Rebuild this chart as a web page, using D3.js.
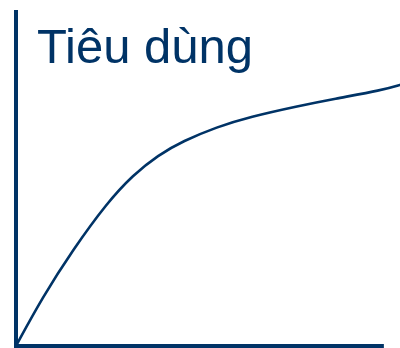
<!DOCTYPE html>
<html>
<head>
<meta charset="utf-8">
<script src="https://cdn.jsdelivr.net/npm/d3@7"></script>
<style>
  body { margin: 0; background: #fff; }
  svg { display: block; }
</style>
</head>
<body>
<div id="chart"></div>
<script>
// Consumption curve (arbitrary 0-100 units)
const incomeValues = [0, 6.8, 14.8, 23.7, 30.5, 37.0, 43.5, 52.3, 60.9, 73.4, 82.6, 95.6, 100];
const consumptionValues = [0, 14.3, 28.6, 42.6, 50.9, 56.8, 61.0, 65.2, 68.2, 71.4, 73.5, 76.2, 77.7];
const xAxisEnd = 95.8;
const yAxisEnd = 100;
const titleText = "Tiêu dùng";

const width = 400;
const height = 348;
const margin = { top: 10, right: 0, bottom: 2, left: 16 };
const color = "#003366";

const x = d3.scaleLinear()
    .domain([0, 100])
    .range([margin.left, width - margin.right]);

const y = d3.scaleLinear()
    .domain([0, 100])
    .range([height - margin.bottom, margin.top]);

const svg = d3.select("#chart")
    .append("svg")
    .attr("width", width)
    .attr("height", height);

//  axes, drawn as plain thick lines
svg.append("line")
    .attr("x1", x(0)).attr("x2", x(0))
    .attr("y1", y(0) + 2).attr("y2", y(yAxisEnd))
    .attr("stroke", color)
    .attr("stroke-width", 4);

svg.append("line")
    .attr("x1", x(0) - 2).attr("x2", x(xAxisEnd))
    .attr("y1", y(0)).attr("y2", y(0))
    .attr("stroke", color)
    .attr("stroke-width", 4);

const points = incomeValues.map((v, i) => [v, consumptionValues[i]]);

//  basis curve smooths out small reading errors
const line = d3.line()
    .x((d) => x(d[0]))
    .y((d) => y(d[1]))
    .curve(d3.curveBasis);

svg.append("path")
    .datum(points)
    .attr("d", line)
    .attr("fill", "none")
    .attr("stroke", color)
    .attr("stroke-width", 2.6)
    .attr("stroke-linecap", "round");

svg.append("text")
    .attr("x", 37)
    .attr("y", 63)
    .text(titleText)
    .style("font-family", "'Liberation Sans', Arial, sans-serif")
    .style("font-size", "49px")
    .attr("fill", color);
</script>
</body>
</html>
